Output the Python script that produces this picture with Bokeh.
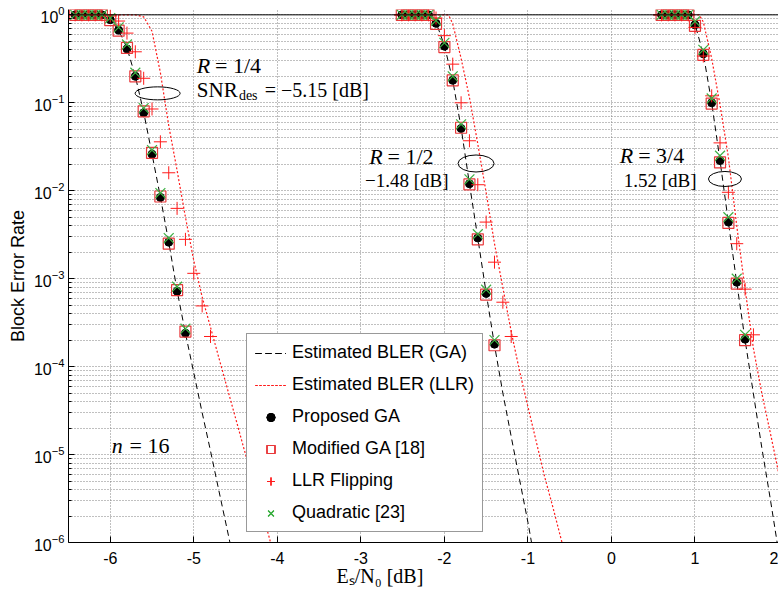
from bokeh.plotting import figure
from bokeh.models import Range1d, FixedTicker, Label, Title, PrintfTickFormatter, Span
from bokeh.embed import file_html
from bokeh.resources import INLINE

# ---------------- data ----------------
# R = 1/4
snr_14 = [-6.42, -6.34, -6.26, -6.18, -6.10, -6.0, -5.9, -5.8, -5.7, -5.6, -5.5, -5.4, -5.3, -5.2, -5.1]
ga_14 = [1, 1, 1, 1, 1, 0.88, 0.67, 0.41, 0.20, 0.077, 0.026, 0.0084, 0.0026, 7.2e-4, 2.4e-4]
mod_14 = [1, 1, 1, 1, 1, 0.87, 0.66, 0.42, 0.20, 0.080, 0.027, 0.0086, 0.0025, 7.4e-4, 2.5e-4]
quad_14 = [1, 1, 1, 1, 1, 0.92, 0.72, 0.46, 0.22, 0.087, 0.029, 0.0094, 0.0029, 8.1e-4, 2.7e-4]
snr_llr_14 = [-6.42, -6.34, -6.26, -6.18, -6.10, -6.0, -5.9, -5.8, -5.7, -5.6, -5.5, -5.4, -5.3, -5.2, -5.1, -5.0, -4.9, -4.8]
llr_14 = [1, 1, 1, 1, 1, 0.97, 0.85, 0.62, 0.38, 0.19, 0.085, 0.036, 0.016, 0.0063, 0.0028, 0.00115, 4.9e-4, 2.2e-4]
est_ga_x_14 = [-6.52, -6.1, -6.0, -5.9, -5.8, -5.7, -5.6, -5.5, -5.4, -5.3, -5.2, -5.1, -5.0, -4.9, -4.8, -4.7, -4.6, -4.5]
est_ga_y_14 = [1.0, 0.99, 0.88, 0.67, 0.42, 0.20, 0.078, 0.026, 0.0085, 0.0026, 7.3e-4, 2.4e-4, 8.5e-5, 3.0e-5, 1.1e-5, 3.9e-6, 1.4e-6, 5e-7]
est_llr_x_14 = [-6.52, -5.7, -5.6, -5.5, -5.4, -5.3, -5.2, -5.1, -5.0, -4.9, -4.8, -4.7, -4.6, -4.5, -4.4, -4.3, -4.2, -4.1, -4.0]
est_llr_y_14 = [1.0, 1.0, 0.95, 0.65, 0.22, 0.055, 0.017, 0.005, 0.0016, 6.2e-4, 2.8e-4, 1.26e-4, 5.7e-5, 2.6e-5, 1.17e-5, 5.4e-6, 2.5e-6, 1.17e-6, 5e-7]

# R = 1/2
snr_12 = [-2.51, -2.43, -2.35, -2.27, -2.19, -2.1, -2.0, -1.9, -1.8, -1.7, -1.6, -1.5, -1.4]
ga_12 = [1, 1, 1, 1, 1, 0.80, 0.44, 0.18, 0.051, 0.012, 0.0029, 6.8e-4, 1.8e-4]
mod_12 = [1, 1, 1, 1, 1, 0.79, 0.43, 0.18, 0.052, 0.0118, 0.0028, 6.6e-4, 1.75e-4]
quad_12 = [1, 1, 1, 1, 1, 0.86, 0.48, 0.20, 0.057, 0.0135, 0.0032, 7.5e-4, 2.0e-4]
snr_llr_12 = [-2.51, -2.43, -2.35, -2.27, -2.19, -2.1, -2.0, -1.9, -1.8, -1.7, -1.6, -1.5, -1.4, -1.3, -1.2]
llr_12 = [1, 1, 1, 1, 1, 0.92, 0.58, 0.275, 0.10, 0.037, 0.0117, 0.0044, 0.00154, 5.4e-4, 2.2e-4]
est_ga_x_12 = [-2.6, -2.15, -2.1, -2.0, -1.9, -1.8, -1.7, -1.6, -1.5, -1.4, -1.3, -1.2, -1.1, -1.0, -0.9]
est_ga_y_12 = [1.0, 0.98, 0.82, 0.45, 0.18, 0.052, 0.012, 0.0029, 6.9e-4, 1.75e-4, 5.0e-5, 1.6e-5, 5.2e-6, 1.7e-6, 5e-7]
est_llr_x_12 = [-2.6, -1.95, -1.9, -1.8, -1.7, -1.6, -1.5, -1.4, -1.3, -1.2, -1.1, -1.0, -0.9, -0.8, -0.7, -0.6, -0.5]
est_llr_y_12 = [1.0, 1.0, 0.79, 0.32, 0.115, 0.034, 0.0095, 0.0025, 7.9e-4, 2.5e-4, 8.9e-5, 3.5e-5, 1.4e-5, 5.6e-6, 2.5e-6, 1.07e-6, 5e-7]

# R = 3/4
snr_34 = [0.60, 0.68, 0.76, 0.84, 0.92, 1.0, 1.1, 1.2, 1.3, 1.4, 1.5, 1.6]
ga_34 = [1, 1, 1, 1, 1, 0.77, 0.36, 0.10, 0.022, 0.0044, 9.1e-4, 2.05e-4]
mod_34 = [1, 1, 1, 1, 1, 0.75, 0.35, 0.098, 0.021, 0.0043, 8.8e-4, 2.0e-4]
quad_34 = [1, 1, 1, 1, 1, 0.84, 0.40, 0.112, 0.025, 0.0050, 1.0e-3, 2.3e-4]
snr_llr_34 = [0.60, 0.68, 0.76, 0.84, 0.92, 1.0, 1.1, 1.2, 1.3, 1.4, 1.5, 1.6, 1.7]
llr_34 = [1, 1, 1, 1, 1, 0.72, 0.34, 0.12, 0.035, 0.0096, 0.0025, 7.6e-4, 2.3e-4]
est_ga_x_34 = [0.5, 0.95, 1.0, 1.1, 1.2, 1.3, 1.4, 1.5, 1.6, 1.7, 1.8, 1.9, 2.0]
est_ga_y_34 = [1.0, 0.97, 0.78, 0.36, 0.10, 0.022, 0.0044, 9.0e-4, 2.0e-4, 4.9e-5, 1.2e-5, 3.2e-6, 8e-7]
est_llr_x_34 = [0.5, 1.05, 1.1, 1.2, 1.3, 1.4, 1.5, 1.6, 1.7, 1.8, 1.9, 2.0]
est_llr_y_34 = [1.0, 1.0, 0.83, 0.32, 0.095, 0.024, 0.004, 7.6e-4, 1.6e-4, 5e-5, 1.8e-5, 6.3e-6]

x_ticks = [-6, -5, -4, -3, -2, -1, 0, 1, 2]
y_ticks = [1e-6, 1e-5, 1e-4, 1e-3, 1e-2, 1e-1, 1e0]

# annotation ellipses (centre x, centre y, width px, height px)
ell_x = [-5.433, -1.621, 1.359]
ell_y = [0.128, 0.0204, 0.0136]
ell_w = [45, 36, 33]
ell_h = [13, 17, 15]

# ---------------- styling ----------------
BLACK = "#000000"
RED = "#ff1a1a"
SQ_RED = "#e8383a"
GREEN = "#3cb043"
SANS = "Liberation Sans"
SERIF = "Liberation Serif"

p = figure(width=778, height=590, y_axis_type="log",
           x_range=Range1d(-6.5, 2.0), y_range=Range1d(1e-6, 1.15),
           output_backend="svg", toolbar_location=None,
           min_border_left=68, min_border_right=0, min_border_top=9, min_border_bottom=48)
p.background_fill_color = "white"
p.border_fill_color = "white"
p.outline_line_color = None
p.add_layout(Span(location=1.0, dimension="width", line_color="black", line_width=1))

# grids
p.xaxis.ticker = FixedTicker(ticks=x_ticks, minor_ticks=[])
p.xaxis.formatter = PrintfTickFormatter(format="%d")
minor = [m * 10.0 ** e for e in range(-6, 0) for m in range(2, 10)]
p.yaxis.ticker = FixedTicker(ticks=y_ticks, minor_ticks=minor)
for g in (p.xgrid, p.ygrid):
    g.grid_line_color = "#808080"
    g.grid_line_dash = "1 2"
    g.grid_line_width = 1
p.ygrid.minor_grid_line_color = "#808080"
p.ygrid.minor_grid_line_dash = "1 2"
p.ygrid.minor_grid_line_width = 1

# axes
for ax in (p.xaxis, p.yaxis):
    ax.axis_line_color = "black"
    ax.major_tick_line_color = "black"
    ax.minor_tick_line_color = "black"
    ax.major_tick_in = 6
    ax.major_tick_out = 0
    ax.minor_tick_in = 3
    ax.minor_tick_out = 0
    ax.major_label_text_font = SANS
    ax.major_label_text_font_size = "16px"
    ax.major_label_text_color = "black"
p.xaxis.major_label_standoff = 9
p.yaxis.major_label_standoff = 4
p.yaxis.axis_label = "Block Error Rate"
p.yaxis.axis_label_text_font = SANS
p.yaxis.axis_label_text_font_size = "18px"
p.yaxis.axis_label_text_font_style = "normal"
p.yaxis.axis_label_text_color = "black"
p.yaxis.axis_label_standoff = 3

p.add_layout(Title(text="E\u209b/N\u2080 [dB]", align="left", offset=268, standoff=-8,
                   text_font=SERIF, text_font_size="20px", text_font_style="normal",
                   text_color="black"), "below")

# ---------------- curves ----------------
est = [(est_ga_x_14, est_ga_y_14, est_llr_x_14, est_llr_y_14),
       (est_ga_x_12, est_ga_y_12, est_llr_x_12, est_llr_y_12),
       (est_ga_x_34, est_ga_y_34, est_llr_x_34, est_llr_y_34)]
for gx, gy, lx, ly in est:
    p.line(gx, gy, line_color=BLACK, line_dash="6 4", line_width=1, legend_label="Estimated BLER (GA)")
for gx, gy, lx, ly in est:
    p.line(lx, ly, line_color=RED, line_dash="2 2", line_width=1.2, legend_label="Estimated BLER (LLR)")

sims = [(snr_14, ga_14, mod_14, quad_14, snr_llr_14, llr_14),
        (snr_12, ga_12, mod_12, quad_12, snr_llr_12, llr_12),
        (snr_34, ga_34, mod_34, quad_34, snr_llr_34, llr_34)]
for s, ga, md, qd, sl, ll in sims:
    p.scatter(s, ga, marker="circle", size=8, fill_color=BLACK, line_color=BLACK, legend_label="Proposed GA")
for s, ga, md, qd, sl, ll in sims:
    p.scatter(s, md, marker="square", size=11, fill_color=None, line_color=SQ_RED, line_width=1.2, legend_label="Modified GA [18]")
for s, ga, md, qd, sl, ll in sims:
    p.scatter(sl, ll, marker="cross", size=13, line_color=RED, line_width=1, legend_label="LLR Flipping")
for s, ga, md, qd, sl, ll in sims:
    p.scatter(s, qd, marker="x", size=14, line_color=GREEN, line_width=1.2, legend_label="Quadratic [23]")

p.ellipse(x=ell_x, y=ell_y, width=ell_w, height=ell_h, width_units="screen", height_units="screen",
          fill_color=None, line_color="black", line_width=1)

# ---------------- legend ----------------
lg = p.legend[0]
lg.location = (178, 10)
lg.margin = 0
lg.padding = 8
lg.spacing = 11
lg.glyph_width = 31
lg.glyph_height = 20
lg.label_height = 20
lg.label_standoff = 6
lg.label_text_font = SANS
lg.label_text_font_size = "18px"
lg.label_text_color = "black"
lg.border_line_color = "#333333"
lg.border_line_width = 1
lg.background_fill_color = "white"
lg.background_fill_alpha = 1.0

# ---------------- text annotations ----------------
def lab(x, y, text, size, style="normal"):
    p.add_layout(Label(x=x, y=y, x_units="data", y_units="data", text=text,
                       text_font=SERIF, text_font_size=size, text_font_style=style,
                       text_align="left", text_baseline="middle", text_color="black"))

# R = 1/4
lab(-4.964, 0.2634, "R", "22px", "italic")
lab(-4.745, 0.2634, "= 1/4", "22px")
lab(-4.964, 0.1394, "SNR", "21px")
lab(-4.460, 0.1200, "des", "14px")
lab(-4.150, 0.1394, "= \u22125.15 [dB]", "20px")
# R = 1/2
lab(-2.900, 0.02434, "R", "22px", "italic")
lab(-2.680, 0.02434, "= 1/2", "22px")
lab(-2.951, 0.0130, "\u22121.48 [dB]", "19px")
# R = 3/4
lab(0.0993, 0.0250, "R", "22px", "italic")
lab(0.320, 0.0250, "= 3/4", "22px")
lab(0.147, 0.0130, "1.52 [dB]", "19px")
# n = 16
lab(-5.981, 1.265e-5, "n", "22px", "italic")
lab(-5.770, 1.265e-5, "= 16", "22px")

open("out.html", "w").write(file_html(p, INLINE))
